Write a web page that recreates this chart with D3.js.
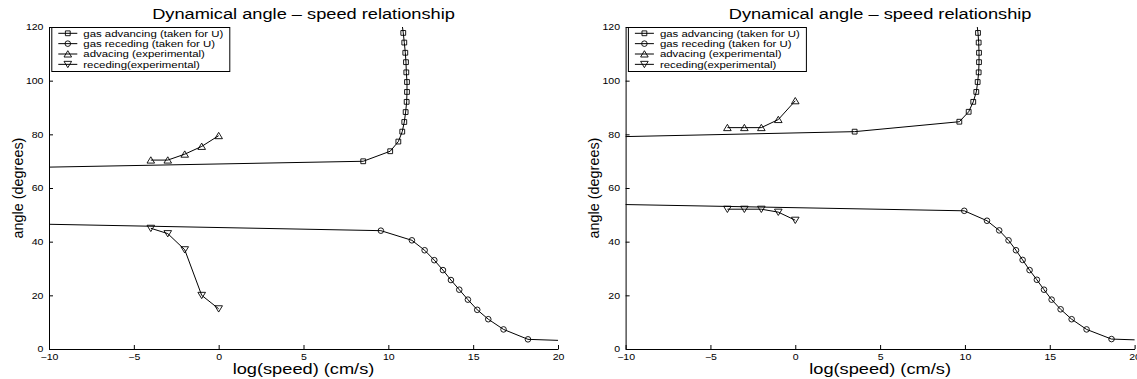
<!DOCTYPE html>
<html>
<head>
<meta charset="utf-8">
<script src="https://cdn.jsdelivr.net/npm/d3@7"></script>
<style>
body{margin:0;background:#fff}
svg{display:block;font-family:"Liberation Sans",Arial,Helvetica,sans-serif}
</style>
</head>
<body>
<svg id="chart" width="1137" height="379"></svg>
<script>
const titleText = 'Dynamical angle \u2013 speed relationship';
const xLabel = 'log(speed) (cm/s)';
const yLabel = 'angle (degrees)';
const xTicks = [-10, -5, 0, 5, 10, 15, 20];
const yTicks = [0, 20, 40, 60, 80, 100, 120];
const legendLabels = ['gas advancing (taken for U)', 'gas receding (taken for U)', 'advacing (experimental)', 'receding(experimental)'];

// left panel  [log speed, angle]
const leftGasAdv = [[-20,66.6],[8.52,69.96],[10.11,73.7],[10.59,77.3],[10.82,81.0],[10.94,84.6],[11.02,88.3],[11.08,92.1],[11.10,95.8],[11.10,99.5],[11.06,103.1],[11.04,106.9],[11.0,110.4],[10.94,114.2],[10.88,117.8],[10.80,121.5]];
const leftGasRec = [[-20,47.7],[9.56,44.1],[11.39,40.5],[12.14,36.8],[12.71,33.1],[13.22,29.4],[13.69,25.7],[14.18,22.1],[14.69,18.4],[15.24,14.6],[15.89,11.1],[16.79,7.3],[18.23,3.6],[21,3.0]];
const leftAdvExp = [[-4,70.4],[-3,70.4],[-2,72.6],[-1,75.5],[0,79.5]];
const leftRecExp = [[-4,45],[-3,43],[-2,37],[-1,20],[0,15]];

// right panel
const rightGasAdv = [[-20,77.8],[3.50,81.0],[9.67,84.7],[10.22,88.4],[10.49,92.1],[10.67,95.8],[10.75,99.5],[10.81,103.1],[10.83,106.9],[10.83,110.4],[10.81,114.2],[10.77,117.8],[10.70,121.5]];
const rightGasRec = [[-20,55.0],[9.96,51.5],[11.30,47.8],[12.02,44.2],[12.57,40.5],[13.01,36.8],[13.40,33.2],[13.81,29.4],[14.24,25.8],[14.66,22.1],[15.11,18.4],[15.64,14.8],[16.29,11.1],[17.17,7.3],[18.64,3.7],[20.5,3.3]];
const rightAdvExp = [[-4,82.5],[-3,82.5],[-2,82.5],[-1,85.5],[0,92.5]];
const rightRecExp = [[-4,52.1],[-3,52.1],[-2,52.1],[-1,51],[0,48]];

const W = 509, H = 322, plotTop = 27;
const sx = 1.2; // text in the reference is drawn wide
const svg = d3.select('#chart');

const marks = {
  square: 'M-2.4,-2.4H2.4V2.4H-2.4Z',
  circle: d3.symbol(d3.symbolCircle, Math.PI * 2.8 * 2.8)(),
  up: 'M0,-3.3L3.8,3L-3.8,3Z',
  down: 'M0,3.3L3.8,-3L-3.8,-3Z'
};

function wideText(g, x, y, str, size, anchor){
  return g.append('text')
    .attr('transform', `translate(${x},${y}) scale(${sx},1)`)
    .attr('font-size', size).attr('text-anchor', anchor).attr('fill', '#000')
    .text(str);
}

function drawPanel(left, id, series){
  const g = svg.append('g').attr('transform', `translate(${left},${plotTop})`);
  const x = d3.scaleLinear().domain([-10, 20]).range([0, W]);
  const y = d3.scaleLinear().domain([0, 120]).range([H, 0]);

  g.append('clipPath').attr('id', id).append('rect').attr('width', W).attr('height', H);
  const line = d3.line().x(d => x(d[0])).y(d => y(d[1]));

  series.forEach(s => {
    g.append('path').attr('d', line(s.data)).attr('clip-path', `url(#${id})`)
      .attr('fill', 'none').attr('stroke', '#000').attr('stroke-width', 1);
    g.selectAll(null).data(s.data.filter(d => d[0] >= -10 && d[0] <= 20 && d[1] >= 0 && d[1] <= 120))
      .enter().append('path')
      .attr('d', marks[s.mark])
      .attr('transform', d => `translate(${x(d[0])},${y(d[1])})`)
      .attr('fill', 'none').attr('stroke', '#000').attr('stroke-width', 0.9);
  });

  const ax = g.append('g').attr('transform', `translate(0,${H})`)
    .call(d3.axisBottom(x).tickValues(xTicks).tickSizeInner(-4).tickSizeOuter(0).tickPadding(5));
  const ay = g.append('g')
    .call(d3.axisLeft(y).tickValues(yTicks).tickSizeInner(-4).tickSizeOuter(0).tickPadding(4.6));
  [ax, ay].forEach(a => {
    a.attr('font-family', null).attr('font-size', 8.8);
    a.selectAll('path, line').attr('stroke', '#000');
    a.selectAll('text').attr('fill', '#000').attr('transform', `scale(${sx},1)`);
  });

  wideText(g, W / 2, -8, titleText, 15.2, 'middle');
  wideText(g, W / 2, H + 25, xLabel, 15.2, 'middle');
  // ylabel sits 26.5px left of the axis line
  g.append('text')
    .attr('transform', `translate(-26.5,${H / 2}) rotate(-90)`)
    .attr('font-size', 14.4).attr('text-anchor', 'middle').attr('fill', '#000')
    .text(yLabel);

  // legend
  const lg = g.append('g').attr('transform', 'translate(2.3,0)');
  lg.append('rect').attr('x', 0.5).attr('y', 0.5).attr('width', 178).attr('height', 44)
    .attr('fill', '#fff').attr('stroke', '#000').attr('stroke-width', 1);
  series.forEach((s, i) => {
    const ry = 6.3 + i * 10.35;
    lg.append('line').attr('x1', 7).attr('x2', 26).attr('y1', ry).attr('y2', ry)
      .attr('stroke', '#000').attr('stroke-width', 1);
    lg.append('path').attr('d', marks[s.mark]).attr('transform', `translate(16.5,${ry})`)
      .attr('fill', 'none').attr('stroke', '#000').attr('stroke-width', 0.9);
    wideText(lg, 32, ry, legendLabels[i], 9.5, 'start').attr('dy', '0.35em');
  });
}

drawPanel(49, 'clipL', [
  {data: leftGasAdv, mark: 'square'},
  {data: leftGasRec, mark: 'circle'},
  {data: leftAdvExp, mark: 'up'},
  {data: leftRecExp, mark: 'down'}
]);
drawPanel(625.6, 'clipR', [
  {data: rightGasAdv, mark: 'square'},
  {data: rightGasRec, mark: 'circle'},
  {data: rightAdvExp, mark: 'up'},
  {data: rightRecExp, mark: 'down'}
]);
</script>
</body>
</html>
